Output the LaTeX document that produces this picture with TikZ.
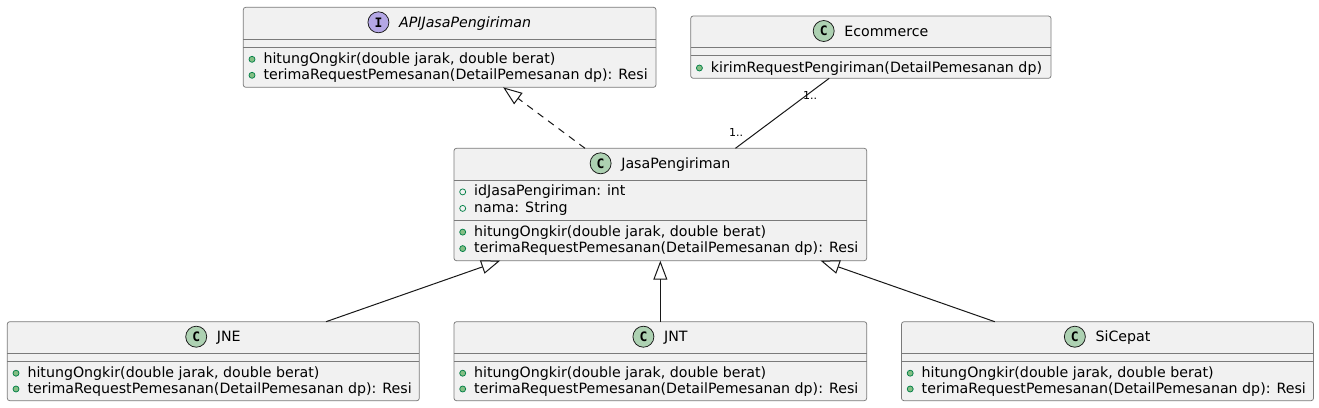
\documentclass[tikz,border=0pt]{standalone}
\usepackage{fontspec}
\setmainfont{DejaVu Sans}
\newfontfamily\cfont{DejaVu Sans Mono}
\usetikzlibrary{arrows.meta,calc}
\definecolor{boxC}{HTML}{F1F1F1}
\definecolor{lineC}{HTML}{181818}
\definecolor{borderC}{HTML}{7A7A7A}
\definecolor{classC}{HTML}{ADD1B2}
\definecolor{ifaceC}{HTML}{B4A7E5}
\definecolor{dotF}{HTML}{84BE84}
\definecolor{dotL}{HTML}{038048}
\tikzset{
  umlbox/.style={draw=borderC, fill=boxC, rounded corners=2.5pt, line width=0.75pt, outer sep=0pt, inner sep=0pt},
  sepl/.style={draw=borderC, line width=0.75pt},
  ttl/.style={font=\fontsize{14.2}{16}\selectfont, inner sep=0pt, anchor=base},
  mtxt/.style={font=\fontsize{14.2}{16}\selectfont, inner sep=0pt, anchor=base west},
  cC/.style={circle, minimum size=21pt, inner sep=0pt, draw=lineC, fill=classC, line width=0.75pt, font=\fontsize{13}{13}\cfont\bfseries},
  cI/.style={cC, fill=ifaceC},
  mdot/.style={circle, minimum size=6pt, inner sep=0pt, draw=dotL, fill=dotF, line width=0.75pt},
  adot/.style={circle, minimum size=6pt, inner sep=0pt, draw=dotL, line width=0.75pt},
  conn/.style={draw=lineC, line width=1pt},
  inh/.style={conn, line join=miter, -{Triangle[open, length=19pt, width=14pt]}},
  real/.style={inh, dash pattern=on 7pt off 6pt},
  mult/.style={font=\fontsize{11}{12}\selectfont, inner sep=0pt}
}
\newcommand\umlrow[5]{%
  \node[mtxt] (#1) at ($(#2.north west)+(20,#3)$) {#5};
  \node[#4] (#1d) at ($(#2.north west)+(8.7,#3-4)$) {};
}
\newcommand\umlsep[2]{\draw[sepl] ($(#1.north west)+(0,#2)$) -- ($(#1.north east)+(0,#2)$);}
\newcommand\umltitle[4]{% box, circle style, letter, name
  \node[ttl] (#1T) at ($(#1.north)+(15.5,20)$) {#4};
  \node[#2] (#1C) at ($(#1T.west |- #1.north)+(-20.5,15)$) {#3};
}
\begin{document}
\begin{tikzpicture}[x=1pt, y=-1pt]
\useasboundingbox[fill=white] (0,0) rectangle (1319,407);

% boxes
\node[umlbox, minimum width=412.7pt, minimum height=80pt] (api) at (449.65,47.3) {};
\node[umlbox, minimum width=360.3pt, minimum height=62.3pt] (ecom) at (870.85,47.15) {};
\node[umlbox, minimum width=412.7pt, minimum height=112.4pt] (jp) at (660.35,204.5) {};
\node[umlbox, minimum width=412pt, minimum height=79pt] (jne) at (213.3,361.2) {};
\node[umlbox, minimum width=412.7pt, minimum height=79pt] (jnt) at (660.35,361.2) {};
\node[umlbox, minimum width=412pt, minimum height=79pt] (sic) at (1107.5,361.2) {};

% API
\umltitle{api}{cI}{I}{\itshape APIJasaPengiriman}
\umlsep{api}{32}\umlsep{api}{40}
\umlrow{apiA}{api}{56}{mdot}{hitungOngkir(double jarak, double berat)}
\umlrow{apiB}{api}{72}{mdot}{terimaRequestPemesanan(DetailPemesanan dp): Resi}

% Ecommerce
\umltitle{ecom}{cC}{C}{Ecommerce}
\umlsep{ecom}{31.5}\umlsep{ecom}{39.3}
\umlrow{ecomA}{ecom}{56}{mdot}{kirimRequestPengiriman(DetailPemesanan dp)}

% JasaPengiriman
\umltitle{jp}{cC}{C}{JasaPengiriman}
\umlsep{jp}{32.4}\umlsep{jp}{71.7}
\umlrow{jpA}{jp}{47.6}{adot}{idJasaPengiriman: int}
\umlrow{jpB}{jp}{64.1}{adot}{nama: String}
\umlrow{jpC}{jp}{87.8}{mdot}{hitungOngkir(double jarak, double berat)}
\umlrow{jpD}{jp}{104.3}{mdot}{terimaRequestPemesanan(DetailPemesanan dp): Resi}

% JNE, JNT, SiCepat
\umltitle{jne}{cC}{C}{JNE}
\umlsep{jne}{31.6}\umlsep{jne}{39.3}
\umlrow{jneA}{jne}{55.5}{mdot}{hitungOngkir(double jarak, double berat)}
\umlrow{jneB}{jne}{71.3}{mdot}{terimaRequestPemesanan(DetailPemesanan dp): Resi}

\umltitle{jnt}{cC}{C}{JNT}
\umlsep{jnt}{31.6}\umlsep{jnt}{39.3}
\umlrow{jntA}{jnt}{55.5}{mdot}{hitungOngkir(double jarak, double berat)}
\umlrow{jntB}{jnt}{71.3}{mdot}{terimaRequestPemesanan(DetailPemesanan dp): Resi}

\umltitle{sic}{cC}{C}{SiCepat}
\umlsep{sic}{31.6}\umlsep{sic}{39.3}
\umlrow{sicA}{sic}{55.5}{mdot}{hitungOngkir(double jarak, double berat)}
\umlrow{sicB}{sic}{71.3}{mdot}{terimaRequestPemesanan(DetailPemesanan dp): Resi}

% connectors
\draw[real] (jp) -- (api);
\draw[conn] (ecom) -- (jp);
\draw[inh] (jne) -- (jp);
\draw[inh] (jnt) -- (jp);
\draw[inh] (sic) -- (jp);

\node[mult] (m1) at (810,95) {1..};
\node[mult] (m2) at (736,132.5) {1..};
\end{tikzpicture}
\end{document}
